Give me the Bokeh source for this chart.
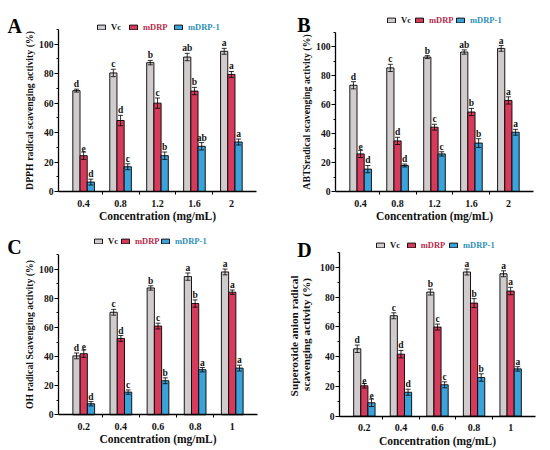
import numpy as np
from bokeh.plotting import figure
from bokeh.models import (ColumnDataSource, Range1d, FixedTicker, SingleIntervalTicker,
                          Whisker, TeeHead, Legend, LegendItem, Label)
from bokeh.transform import dodge
from bokeh.core.properties import value
from bokeh.layouts import gridplot
from bokeh.embed import file_html
from bokeh.resources import INLINE

FONT = "Liberation Serif"
series = ["Vc", "mDRP", "mDRP-1"]
fill_colors = ["#d0cbcc", "#d63b5c", "#3aa3da"]
text_colors = ["#111111", "#b52a4c", "#2f8fb8"]

# ---- Panel A: DPPH ----
A_cats = ["0.4", "0.8", "1.2", "1.6", "2"]
A_vc = [68.5, 80.5, 87.5, 91.3, 95.2]
A_vc_err = [1.0, 2.5, 1.5, 2.5, 2.0]
A_vc_let = ["d", "c", "b", "ab", "a"]
A_mdrp = [24.3, 48.2, 60.0, 68.2, 79.5]
A_mdrp_err = [2.5, 3.5, 3.5, 2.5, 2.0]
A_mdrp_let = ["e", "d", "c", "b", "a"]
A_m1 = [6.4, 16.8, 24.3, 30.7, 33.6]
A_m1_err = [2.0, 2.0, 2.5, 2.5, 2.0]
A_m1_let = ["d", "c", "b", "ab", "a"]

# ---- Panel B: ABTS ----
B_cats = ["0.4", "0.8", "1.2", "1.6", "2"]
B_vc = [73.5, 85.5, 93.0, 96.5, 99.0]
B_vc_err = [2.5, 2.5, 1.0, 1.5, 2.0]
B_vc_let = ["d", "c", "b", "ab", "a"]
B_mdrp = [26.0, 35.0, 44.5, 55.0, 63.0]
B_mdrp_err = [2.5, 2.5, 2.0, 2.5, 2.5]
B_mdrp_let = ["e", "d", "c", "b", "a"]
B_m1 = [15.5, 18.0, 26.0, 33.5, 41.0]
B_m1_err = [2.5, 1.0, 1.5, 3.0, 2.0]
B_m1_let = ["d", "d", "c", "b", "a"]

# ---- Panel C: OH ----
C_cats = ["0.2", "0.4", "0.6", "0.8", "1"]
C_vc = [40.5, 70.5, 87.2, 95.0, 98.2]
C_vc_err = [2.0, 2.0, 1.5, 2.5, 2.0]
C_vc_let = ["d", "c", "b", "a", "a"]
C_mdrp = [42.0, 52.5, 61.0, 76.5, 84.3]
C_mdrp_err = [2.5, 2.0, 2.0, 2.5, 1.5]
C_mdrp_let = ["e", "d", "c", "b", "a"]
C_m1 = [7.6, 15.6, 23.4, 31.0, 32.1]
C_m1_err = [1.5, 1.5, 2.0, 1.5, 2.0]
C_m1_let = ["d", "c", "b", "a", "a"]

# ---- Panel D: Superoxide anion ----
D_cats = ["0.2", "0.4", "0.6", "0.8", "1"]
D_vc = [45.3, 67.5, 83.4, 96.9, 95.7]
D_vc_err = [2.5, 2.0, 2.0, 2.0, 2.0]
D_vc_let = ["d", "c", "b", "a", "a"]
D_mdrp = [20.4, 41.7, 59.9, 76.0, 84.1]
D_mdrp_err = [1.5, 2.5, 2.0, 3.0, 2.5]
D_mdrp_let = ["e", "d", "c", "b", "a"]
D_m1 = [9.0, 16.1, 21.1, 26.0, 31.8]
D_m1_err = [2.5, 2.0, 2.0, 2.5, 1.5]
D_m1_let = ["e", "d", "c", "b", "a"]

BAR_W = 0.195
OFFSETS = [-BAR_W, 0.0, BAR_W]
W, H = 275, 225
X_LO, X_HI = -0.68, 4.68   # extent of the x axis line
Y_TOP = 110.0


def make_panel(cats, vals, errs, lets, ylabel, letter, ax_left, ax_right, y0_px, ytop_px,
               legend_x, legend_yc, letter_pos, ytitle_size="9.8px", ytitle_standoff=1):
    # the frame fills the whole figure; axes are pinned at fixed data positions
    ppx = (ax_right - ax_left) / (X_HI - X_LO)
    ppy = (y0_px - ytop_px) / Y_TOP
    x_range = Range1d(X_LO - ax_left / ppx, X_HI + (W - ax_right) / ppx)
    y_range = Range1d(-(H - y0_px) / ppy, Y_TOP + ytop_px / ppy)
    p = figure(width=W, height=H, output_backend="svg", toolbar_location=None,
               x_range=x_range, y_range=y_range,
               min_border_left=0, min_border_right=0, min_border_top=0, min_border_bottom=0)
    p.outline_line_color = None
    p.xgrid.visible = False
    p.ygrid.visible = False
    p.background_fill_color = None
    p.border_fill_color = None

    idx = list(range(len(cats)))
    renderers = []
    for k in range(3):
        v = np.array(vals[k], dtype=float)
        e = np.array(errs[k], dtype=float)
        src = ColumnDataSource(dict(xi=idx, val=v, up=v + e, lo=v - e, lab=lets[k]))
        xs = dodge("xi", OFFSETS[k], range=p.x_range)
        r = p.vbar(x=xs, top="val", bottom=0, width=BAR_W, source=src,
                   fill_color=fill_colors[k], line_color="#000000", line_width=0.9)
        renderers.append(r)
        w = Whisker(source=src, base=xs, upper="up", lower="lo", dimension="height",
                    line_color="#000000", line_width=0.8, level="overlay",
                    upper_head=TeeHead(size=5, line_color="#000000", line_width=0.8),
                    lower_head=TeeHead(size=5, line_color="#000000", line_width=0.8))
        p.add_layout(w)
        p.text(x=xs, y="up", text="lab", source=src, text_font=value(FONT),
               text_font_style="bold", text_font_size="9.5px", text_color="#111111",
               text_align="center", text_baseline="bottom", y_offset=0)

    # x axis
    xa = p.xaxis[0]
    xa.fixed_location = 0
    xa.bounds = (X_LO, X_HI)
    xa.ticker = FixedTicker(ticks=idx, minor_ticks=[0.5, 1.5, 2.5, 3.5])
    xa.major_label_overrides = {i: c for i, c in zip(idx, cats)}
    xa.major_tick_out = 0
    xa.major_tick_in = 0
    xa.minor_tick_out = 3
    xa.minor_tick_in = 0
    xa.axis_line_width = 1.3
    xa.axis_line_color = "#000000"
    xa.minor_tick_line_color = "#000000"
    xa.major_label_text_font = FONT
    xa.major_label_text_font_style = "bold"
    xa.major_label_text_font_size = "10px"
    xa.major_label_text_color = "#111111"
    xa.major_label_standoff = 5
    xa.axis_label = "Concentration (mg/mL)"
    xa.axis_label_text_font = FONT
    xa.axis_label_text_font_style = "bold"
    xa.axis_label_text_font_size = "11.5px"
    xa.axis_label_text_color = "#111111"
    xa.axis_label_standoff = 0

    # y axis
    ya = p.yaxis[0]
    ya.fixed_location = X_LO
    ya.bounds = (0, Y_TOP)
    ya.ticker = SingleIntervalTicker(interval=20, num_minor_ticks=2)
    ya.major_tick_out = 4
    ya.major_tick_in = 0
    ya.minor_tick_out = 2
    ya.minor_tick_in = 0
    ya.axis_line_width = 1.3
    ya.axis_line_color = "#000000"
    ya.major_tick_line_color = "#000000"
    ya.minor_tick_line_color = "#000000"
    ya.major_label_text_font = FONT
    ya.major_label_text_font_style = "bold"
    ya.major_label_text_font_size = "9.6px"
    ya.major_label_text_color = "#111111"
    ya.major_label_standoff = 1
    ya.axis_label = ylabel
    ya.axis_label_text_font = FONT
    ya.axis_label_text_font_style = "bold"
    ya.axis_label_text_font_size = ytitle_size
    ya.axis_label_text_line_height = 1.05
    ya.axis_label_text_color = "#111111"
    ya.axis_label_standoff = ytitle_standoff

    # legend: one entry per series, each with its own text colour
    for k in range(3):
        leg = Legend(items=[LegendItem(label=series[k], renderers=[renderers[k]])],
                     location=(legend_x[k], H - legend_yc - 4), orientation="horizontal",
                     padding=0, margin=0, spacing=0, glyph_width=10, glyph_height=6,
                     label_standoff=5, label_height=8, label_width=10,
                     label_text_font=FONT, label_text_font_style="bold",
                     label_text_font_size="8.5px", label_text_color=text_colors[k],
                     border_line_color=None, background_fill_alpha=0)
        p.add_layout(leg)

    p.add_layout(Label(x=letter_pos[0], y=H - letter_pos[1], x_units="screen", y_units="screen",
                       text=letter, text_font=FONT, text_font_style="bold",
                       text_font_size="20px", text_color="#000000",
                       text_baseline="alphabetic", text_align="left"))
    return p


pA = make_panel(A_cats, [A_vc, A_mdrp, A_m1], [A_vc_err, A_mdrp_err, A_m1_err],
                [A_vc_let, A_mdrp_let, A_m1_let], "DPPH radical scavenging activity (%)", "A",
                58, 256, 191, 29, [96, 128, 173], 27.5, (7, 25))
pB = make_panel(B_cats, [B_vc, B_mdrp, B_m1], [B_vc_err, B_mdrp_err, B_m1_err],
                [B_vc_let, B_mdrp_let, B_m1_let], "ABTSradical scavenging activity (%)", "B",
                60, 258, 191, 32, [111, 139, 180], 21, (21.7, 24))
pC = make_panel(C_cats, [C_vc, C_mdrp, C_m1], [C_vc_err, C_mdrp_err, C_m1_err],
                [C_vc_let, C_mdrp_let, C_m1_let], "OH radical Scavenging activity (%)", "C",
                58, 257, 189.3, 29.3, [93, 120, 160], 17.3, (6.7, 21.7))
pD = make_panel(D_cats, [D_vc, D_mdrp, D_m1], [D_vc_err, D_mdrp_err, D_m1_err],
                [D_vc_let, D_mdrp_let, D_m1_let],
                "Superoxide anion  radical\nscavenging activity (%)", "D",
                64, 260, 190.7, 27, [100, 130.7, 173], 20.7, (21.7, 24),
                ytitle_size="11.3px", ytitle_standoff=5)

grid = gridplot([[pA, pB], [pC, pD]], toolbar_location=None)
open("out.html", "w").write(file_html(grid, INLINE))
